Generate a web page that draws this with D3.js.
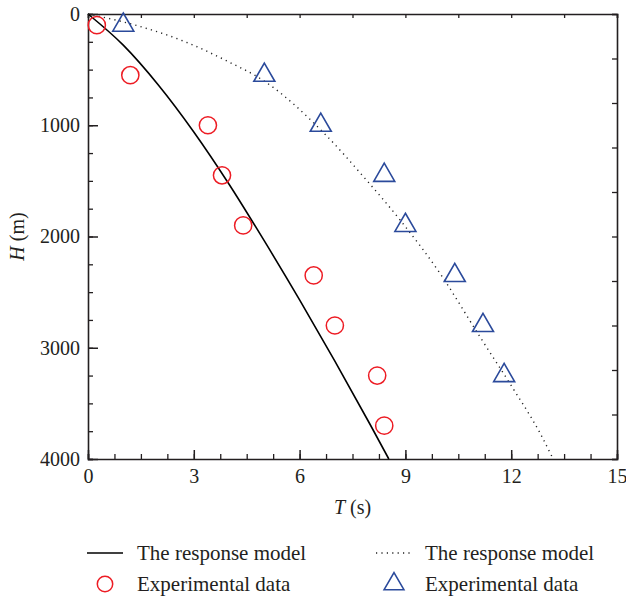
<!DOCTYPE html>
<html>
<head>
<meta charset="utf-8">
<script src="https://cdn.jsdelivr.net/npm/d3@7/dist/d3.min.js"></script>
<style>
  html, body { margin: 0; padding: 0; background: #fff; }
  svg { display: block; }
  text { font-family: "Liberation Serif", "DejaVu Serif", serif; fill: #231f20; }
</style>
</head>
<body>
<svg id="chart" width="626" height="598"></svg>
<script>
// ---- Data (T in s, H in m) ----
const modelA_T = [0, 1, 2, 3, 4, 5, 6, 7, 8, 8.53];
const modelA_H = [0, 280, 640, 1060, 1530, 2040, 2570, 3120, 3690, 4000];

const modelB_T = [0, 1.33, 2.75, 3.88, 5.02, 6.75, 7.81, 8.85, 9.98, 11.11, 11.96, 12.82, 13.19];
const modelB_H = [0, 99, 249, 413, 608, 1090, 1462, 1852, 2331, 2900, 3320, 3769, 4000];

const circ_T = [0.25, 1.2, 3.4, 3.8, 4.4, 6.4, 7.0, 8.2, 8.4];
const circ_H = [100, 550, 1000, 1450, 1900, 2350, 2800, 3250, 3700];

const tri_T = [1.0, 5.0, 6.6, 8.4, 9.0, 10.4, 11.2, 11.8];
const tri_H = [100, 550, 1000, 1450, 1900, 2350, 2800, 3250];

const xMajorTicks = [0, 3, 6, 9, 12, 15];
const yMajorTicks = [0, 1000, 2000, 3000, 4000];

const legendLabels = ["The response model", "Experimental data", "The response model", "Experimental data"];

// ---- Layout ----
const svg = d3.select("#chart");
const L = 88, R = 617, T0 = 14, B = 459;
const x = d3.scaleLinear().domain([0, 15]).range([L, R]);
const y = d3.scaleLinear().domain([0, 4000]).range([T0, B]);

const RED = "#ed1c24", BLUE = "#2b4a9b";

// ---- Axes ----
const gx = svg.append("g").attr("transform", `translate(0,${B})`);
gx.call(d3.axisBottom(x).tickValues(d3.range(0, 15.001, 0.75))
  .tickSize(-5).tickFormat(""));
gx.call(g => g.selectAll(".tick line").attr("stroke", "#231f20").attr("stroke-width", 1.3));
const gx2 = svg.append("g").attr("transform", `translate(0,${B})`);
gx2.call(d3.axisBottom(x).tickValues(xMajorTicks).tickSize(-9).tickPadding(10).tickFormat(d3.format("d")));
gx2.call(g => {
  g.select(".domain").remove();
  g.selectAll(".tick line").attr("stroke", "#231f20").attr("stroke-width", 1.5);
  g.selectAll(".tick text").attr("font-size", 20).attr("fill", "#231f20").attr("font-family", "Liberation Serif");
});

const gy = svg.append("g").attr("transform", `translate(${L},0)`);
gy.call(d3.axisLeft(y).tickValues(d3.range(0, 4001, 250)).tickSize(-5).tickFormat(""));
gy.call(g => g.selectAll(".tick line").attr("stroke", "#231f20").attr("stroke-width", 1.3));
const gy2 = svg.append("g").attr("transform", `translate(${L},0)`);
gy2.call(d3.axisLeft(y).tickValues(yMajorTicks).tickSize(-10).tickPadding(8).tickFormat(d3.format("d")));
gy2.call(g => {
  g.select(".domain").remove();
  g.selectAll(".tick line").attr("stroke", "#231f20").attr("stroke-width", 1.5);
  g.selectAll(".tick text").attr("font-size", 20).attr("fill", "#231f20").attr("font-family", "Liberation Serif");
});

// top and right mirror axes
const gt = svg.append("g").attr("transform", `translate(0,${T0})`);
gt.call(d3.axisTop(x).tickValues(d3.range(0, 15.001, 1.5)).tickSize(-4).tickFormat(""));
gt.call(g => g.selectAll(".tick line").attr("stroke", "#231f20").attr("stroke-width", 1.3));
const gr = svg.append("g").attr("transform", `translate(${R},0)`);
gr.call(d3.axisRight(y).tickValues(d3.range(0, 4001, 400)).tickSize(-5).tickFormat(""));
gr.call(g => g.selectAll(".tick line").attr("stroke", "#231f20").attr("stroke-width", 1.3));

svg.selectAll(".domain").attr("stroke", "#231f20").attr("stroke-width", 1.6);

// ---- Axis titles ----
const xt = svg.append("text").attr("x", (L + R) / 2).attr("y", 514)
  .attr("text-anchor", "middle").attr("font-size", 20);
xt.append("tspan").attr("font-style", "italic").text("T");
xt.append("tspan").text(" (s)");

const yt = svg.append("text")
  .attr("transform", `translate(24,${(T0 + B) / 2}) rotate(-90)`)
  .attr("text-anchor", "middle").attr("font-size", 20);
yt.append("tspan").attr("font-style", "italic").text("H");
yt.append("tspan").text(" (m)");

// ---- Curves ----
const line = d3.line().x(d => x(d[0])).y(d => y(d[1])).curve(d3.curveMonotoneX);
const dataA = modelA_T.map((t, i) => [t, modelA_H[i]]);
const dataB = modelB_T.map((t, i) => [t, modelB_H[i]]);

svg.append("path").datum(dataA).attr("d", line)
  .attr("fill", "none").attr("stroke", "#000").attr("stroke-width", 1.6);
svg.append("path").datum(dataB).attr("d", line)
  .attr("fill", "none").attr("stroke", "#222").attr("stroke-width", 1.4)
  .attr("stroke-dasharray", "1.2,4.2");

// ---- Markers ----
svg.append("g").selectAll("circle").data(circ_T.map((t, i) => [t, circ_H[i]]))
  .join("circle")
  .attr("cx", d => x(d[0])).attr("cy", d => y(d[1])).attr("r", 8.6)
  .attr("fill", "none").attr("stroke", RED).attr("stroke-width", 1.5);

const triSym = d3.symbol().type(d3.symbolTriangle).size(191);
svg.append("g").selectAll("path").data(tri_T.map((t, i) => [t, tri_H[i]]))
  .join("path")
  .attr("d", triSym)
  .attr("transform", d => `translate(${x(d[0])},${y(d[1])})`)
  .attr("fill", "none").attr("stroke", BLUE).attr("stroke-width", 1.6);

// ---- Legend ----
const lg = svg.append("g");
const row1 = 553, row2 = 584;
lg.append("line").attr("x1", 87).attr("x2", 123).attr("y1", row1).attr("y2", row1)
  .attr("stroke", "#000").attr("stroke-width", 1.6);
lg.append("circle").attr("cx", 105).attr("cy", row2).attr("r", 7.7)
  .attr("fill", "none").attr("stroke", RED).attr("stroke-width", 1.5);
lg.append("line").attr("x1", 376).attr("x2", 410).attr("y1", row1).attr("y2", row1)
  .attr("stroke", "#222").attr("stroke-width", 1.4).attr("stroke-dasharray", "1.2,4.2");
lg.append("path").attr("d", d3.symbol().type(d3.symbolTriangle).size(170))
  .attr("transform", `translate(394,${row2})`)
  .attr("fill", "none").attr("stroke", BLUE).attr("stroke-width", 1.6);

const lpos = [[137, row1], [137, row2], [425, row1], [425, row2]];
lg.selectAll("text.lab").data(legendLabels).join("text").attr("class", "lab")
  .attr("x", (d, i) => lpos[i][0]).attr("y", (d, i) => lpos[i][1])
  .attr("dy", "0.33em").attr("font-size", 21).text(d => d);
</script>
</body>
</html>
